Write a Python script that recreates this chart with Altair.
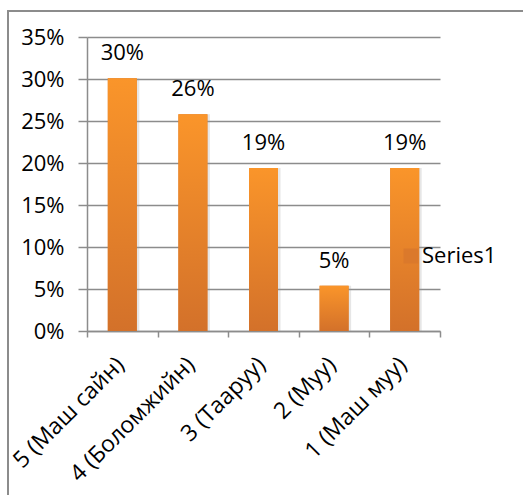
import altair as alt
import pandas as pd

# Survey answers, best to worst, and their share of responses
categories = ["5 (Маш сайн)", "4 (Боломжийн)", "3 (Тааруу)", "2 (Муу)", "1 (Маш муу)"]
shares = [0.301, 0.258, 0.194, 0.054, 0.194]
series_name = "Series1"
y_ticks = [0, 0.05, 0.10, 0.15, 0.20, 0.25, 0.30, 0.35]

df = pd.DataFrame({
    "category": categories,
    "share": shares,
    "series": [series_name] * len(categories),
})

FONT = "Open Sans"
FS = 22
GRAY = "#8c8c8c"
TOP, BOTTOM = "#FA952A", "#D3712A"
SWATCH = "#DB792B"
W, H = 353, 294

x_enc = alt.X(
    "category:N",
    sort=categories,
    title=None,
    scale=alt.Scale(paddingInner=0, paddingOuter=0),
    axis=alt.Axis(
        labelAngle=-45,
        labelFont=FONT,
        labelFontSize=23,
        labelColor="black",
        labelPadding=16,
        labelOffset=-10,
        tickBand="extent",
        tickSize=6,
        tickColor=GRAY,
        tickWidth=1.5,
        domainColor=GRAY,
        domainWidth=1.5,
        grid=False,
    ),
)
y_enc = alt.Y(
    "share:Q",
    title=None,
    scale=alt.Scale(domain=[0, 0.35], nice=False),
    axis=alt.Axis(
        values=y_ticks,
        format=".0%",
        labelFont=FONT,
        labelFontSize=FS,
        labelColor="black",
        labelPadding=14,
        tickSize=9,
        tickColor=GRAY,
        tickWidth=1.5,
        domainColor=GRAY,
        domainWidth=1.5,
        gridColor=GRAY,
        gridWidth=1.5,
    ),
)

# Solid bars underneath: they carry the legend entry
legend_bars = alt.Chart(df).mark_bar(size=29).encode(
    x=x_enc,
    y=y_enc,
    color=alt.Color(
        "series:N",
        scale=alt.Scale(range=[SWATCH]),
        legend=alt.Legend(
            title=None,
            orient="none",
            legendX=313,
            legendY=208,
            padding=0,
            zindex=1,
            symbolType="square",
            symbolSize=225,
            symbolStrokeWidth=0,
            symbolOpacity=1,
            labelFont=FONT,
            labelFontSize=FS,
            labelColor="black",
            labelOffset=0,
        ),
    ),
)

# Soft shadow to the right of each bar
shadow = alt.Chart(df).mark_bar(size=29, color="#9a9a9a", opacity=0.25, xOffset=2.5).encode(
    x=x_enc, y=y_enc
)

# Gradient-filled bars on top
bars = alt.Chart(df).mark_bar(
    size=29,
    fill=alt.Gradient(
        gradient="linear",
        x1=0, x2=0, y1=0, y2=1,
        stops=[
            alt.GradientStop(color=TOP, offset=0),
            alt.GradientStop(color=BOTTOM, offset=1),
        ],
    ),
).encode(x=x_enc, y=y_enc)

labels = alt.Chart(df).mark_text(
    font=FONT, fontSize=FS, color="black", baseline="alphabetic", dy=-18
).encode(x=x_enc, y=y_enc, text=alt.Text("share:Q", format=".0%"))

frame = alt.Chart(df).mark_rect(filled=False, stroke=GRAY, strokeWidth=1.5).encode(
    x=alt.value(-79), x2=alt.value(460), y=alt.value(-26), y2=alt.value(480)
)

chart = (
    alt.layer(frame, shadow, legend_bars, bars, labels)
    .properties(
        width=W,
        height=H,
        autosize=alt.AutoSizeParams(type="none"),
        padding={"left": 87, "top": 37, "right": 83, "bottom": 164},
        background="white",
    )
    .configure_view(stroke=None)
)

chart.save("out.html", embed_options={"renderer": "svg", "actions": False})
